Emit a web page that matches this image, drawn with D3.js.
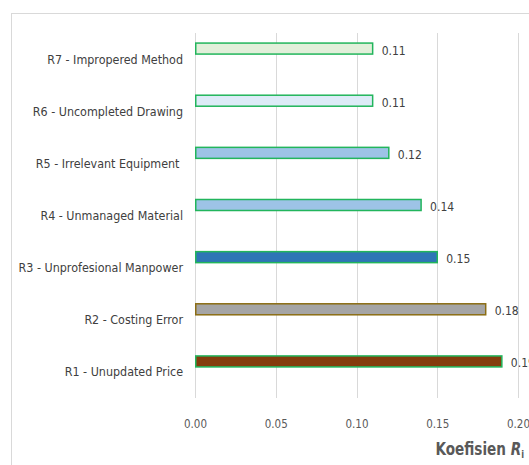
<!DOCTYPE html>
<html>
<head>
<meta charset="utf-8">
<script src="https://cdn.jsdelivr.net/npm/d3@7"></script>
<style>
  html, body { margin: 0; padding: 0; background: #fff; }
  svg { display: block; }
  text { font-family: "DejaVu Sans Condensed", "Liberation Sans Narrow", sans-serif; font-stretch: condensed; }
</style>
</head>
<body>
<svg id="chart" width="529" height="465"></svg>
<script>
// Risk factors, top to bottom
const categories = [
  "R7 - Impropered Method",
  "R6 - Uncompleted Drawing",
  "R5 - Irrelevant Equipment ",
  "R4 - Unmanaged Material",
  "R3 - Unprofesional Manpower",
  "R2 - Costing Error",
  "R1 - Unupdated Price"
];
const values = [0.11, 0.11, 0.12, 0.14, 0.15, 0.18, 0.19];
const valueLabels = ["0.11", "0.11", "0.12", "0.14", "0.15", "0.18", "0.19"];
const fills = ["#e2efda", "#ddebf7", "#9dc3e6", "#9dc3e6", "#2e75b6", "#a5a5a5", "#843c0c"];
const strokes = ["#22b55c", "#22b55c", "#22b55c", "#22b55c", "#22b55c", "#8b6d14", "#22b55c"];
const xTicks = [0, 0.05, 0.10, 0.15, 0.20];
const xTickLabels = ["0.00", "0.05", "0.10", "0.15", "0.20"];

const svg = d3.select("#chart");

// chart frame
svg.append("rect")
  .attr("x", 11.5).attr("y", 13.5)
  .attr("width", 600).attr("height", 600)
  .attr("fill", "none").attr("stroke", "#d9d9d9").attr("stroke-width", 1);

const x = d3.scaleLinear().domain([0, 0.2]).range([195, 518]);
const y = d3.scaleBand().domain(categories).range([33, 398]).padding(0);
const step = y.step();
const barH = 11;
const barOffset = -10.5; // bar sits above the band centre

// vertical gridlines
svg.append("g").selectAll("line")
  .data(xTicks)
  .join("line")
  .attr("x1", d => Math.round(x(d)) + 0.5)
  .attr("x2", d => Math.round(x(d)) + 0.5)
  .attr("y1", 33).attr("y2", 398)
  .attr("stroke", "#d9d9d9").attr("stroke-width", 1);

// bars
svg.append("g").selectAll("rect")
  .data(categories)
  .join("rect")
  .attr("x", x(0) + 0.75)
  .attr("y", (d) => y(d) + step / 2 + barOffset - barH / 2)
  .attr("width", (d, i) => x(values[i]) - x(0) - 0.75)
  .attr("height", barH)
  .attr("fill", (d, i) => fills[i])
  .attr("stroke", (d, i) => strokes[i])
  .attr("stroke-width", 1.5);

// value labels
svg.append("g").selectAll("text")
  .data(categories)
  .join("text")
  .attr("x", (d, i) => x(values[i]) + 9)
  .attr("y", (d) => y(d) + step / 2 + barOffset + 2.5)
  .attr("dominant-baseline", "middle")
  .attr("font-size", 12)
  .attr("fill", "#404040")
  .text((d, i) => valueLabels[i]);

// category labels
svg.append("g").selectAll("text")
  .data(categories)
  .join("text")
  .attr("x", 183)
  .attr("y", d => y(d) + step / 2 + 1)
  .attr("dominant-baseline", "middle")
  .attr("text-anchor", "end")
  .attr("font-size", 12.4)
  .attr("fill", "#404040")
  .style("white-space", "pre")
  .text(d => d);

// x tick labels
svg.append("g").selectAll("text")
  .data(xTicks)
  .join("text")
  .attr("x", d => x(d) + 0.5)
  .attr("y", 424)
  .attr("dominant-baseline", "middle")
  .attr("text-anchor", "middle")
  .attr("font-size", 11.5)
  .attr("fill", "#595959")
  .text((d, i) => xTickLabels[i]);

// axis title, horizontally compressed for a narrow bold face
const title = svg.append("text")
  .attr("transform", "translate(524,455) scale(0.84,1)")
  .attr("text-anchor", "end")
  .attr("font-size", 18)
  .attr("font-weight", "bold")
  .attr("fill", "#595959");
title.append("tspan").text("Koefisien ");
title.append("tspan").attr("font-style", "italic").text("R");
title.append("tspan").attr("font-size", 11).attr("dy", 3).text("i");
</script>
</body>
</html>
